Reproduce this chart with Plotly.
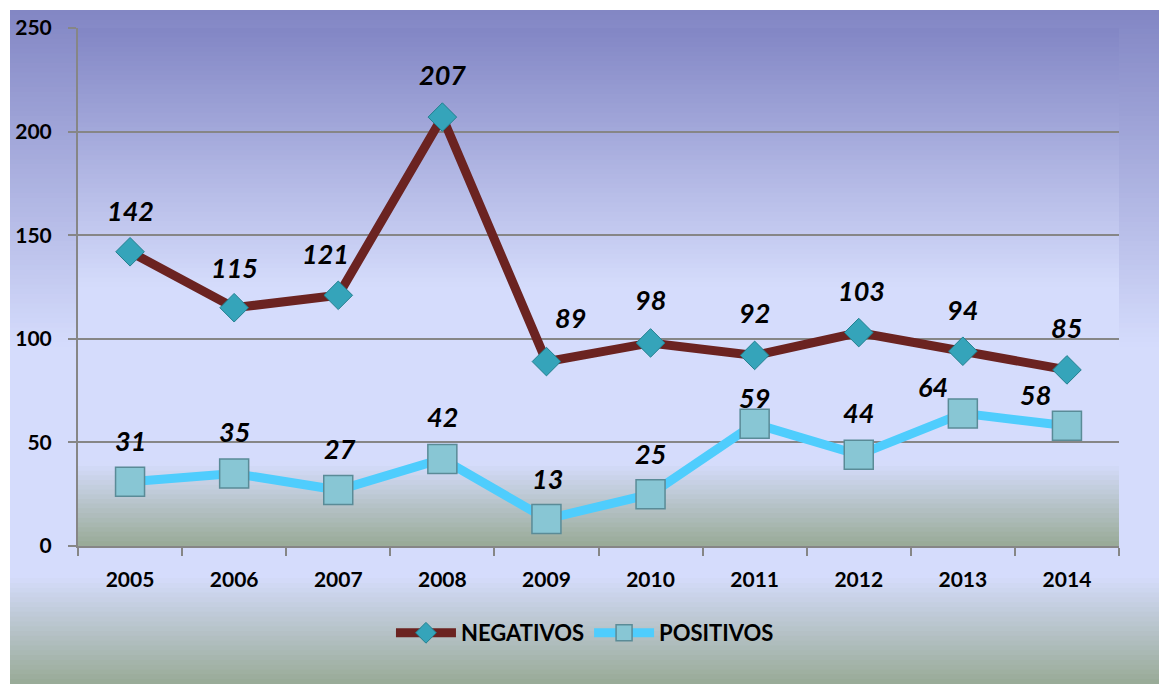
import plotly.graph_objects as go

years = ["2005", "2006", "2007", "2008", "2009", "2010", "2011", "2012", "2013", "2014"]
negativos = [142, 115, 121, 207, 89, 98, 92, 103, 94, 85]
positivos = [31, 35, 27, 42, 13, 25, 59, 44, 64, 58]
y_ticks = [0, 50, 100, 150, 200, 250]

# label offsets in pixels (style only)
neg_dx = [0, 0, -13, 0, 24, 0, 0, 3, 0, 0]
neg_dy = [41, 40, 42, 43, 44, 43, 43, 42, 42, 42]
pos_dx = [0, 0, 2, 0, 1, 0, 0, 0, -30, -31]
pos_dy = [41, 42, 42, 42, 41, 41, 26, 42, 27, 31]

W, H = 1159, 684
L, R, T, B = 78, 1119, 28, 546
ml, mr, mt, mb = L, W - R, T, H - B
pw, ph = R - L, B - T


def px2paper_x(px):
    return (px - L) / pw


def px2paper_y(py):
    return (B - py) / ph


def lerp(c1, c2, t):
    return tuple(round(a + (b - a) * t) for a, b in zip(c1, c2))


stops = [(0.0, (130, 134, 196)), (0.5, (213, 220, 252)), (0.84, (213, 220, 252)), (1.0, (152, 170, 150))]


def grad_color(t):
    for (t0, c0), (t1, c1) in zip(stops[:-1], stops[1:]):
        if t <= t1:
            return lerp(c0, c1, (t - t0) / (t1 - t0) if t1 > t0 else 0)
    return stops[-1][1]


shapes = []


def add_gradient(x0, x1, y0, y1, n):
    step = (y1 - y0) / n
    for i in range(n):
        top = y0 + i * step
        bot = min(y1, top + step + 1)
        c = grad_color((i + 0.5) / n)
        shapes.append(dict(type="rect", xref="paper", yref="paper",
                           x0=px2paper_x(x0), x1=px2paper_x(x1),
                           y0=px2paper_y(bot), y1=px2paper_y(top),
                           fillcolor="rgb(%d,%d,%d)" % c, line=dict(width=0),
                           layer="below"))


add_gradient(10, W, 10, H, 140)
add_gradient(L, R, T, B, 110)

fig = go.Figure()

fig.add_trace(go.Scatter(
    x=years, y=negativos, name="NEGATIVOS", mode="lines+markers",
    line=dict(color="#6b2321", width=9),
    marker=dict(symbol="diamond", size=22, color="#35a4ba",
                line=dict(color="#23808f", width=1)),
))
fig.add_trace(go.Scatter(
    x=years, y=positivos, name="POSITIVOS", mode="lines+markers",
    line=dict(color="#4fcdfd", width=9),
    marker=dict(symbol="square", size=29, color="#88c6d4",
                line=dict(color="#5a8b97", width=1.5)),
))

for vals, dxs, dys in ((negativos, neg_dx, neg_dy), (positivos, pos_dx, pos_dy)):
    for i, (v, dx, dy) in enumerate(zip(vals, dxs, dys)):
        fig.add_annotation(
            x=i, y=v, xref="x", yref="y", text="<i>%d</i>" % v,
            showarrow=False, xshift=dx, yshift=dy,
            font=dict(family="Lato", size=27, color="black", weight="bold"),
        )

fig.update_layout(
    width=W, height=H,
    margin=dict(l=ml, r=mr, t=mt, b=mb, pad=0),
    paper_bgcolor="white",
    plot_bgcolor="rgba(0,0,0,0)",
    shapes=shapes,
    font=dict(family="Lato", color="black"),
    showlegend=True,
    legend=dict(orientation="h", x=0.487, xanchor="center",
                y=px2paper_y(633), yanchor="middle",
                bgcolor="rgba(0,0,0,0)",
                font=dict(family="Lato", size=22, color="black", weight="bold"),
                itemwidth=60, tracegroupgap=0),
)

fig.update_xaxes(
    type="category", range=[-0.5, 9.5],
    showline=True, linecolor="#868686", linewidth=2,
    ticks="outside", ticklen=8, tickcolor="#868686", tickwidth=2,
    tickson="boundaries",
    showgrid=False, zeroline=False,
    tickfont=dict(family="Lato", size=21, color="black", weight="bold"),
    ticklabelstandoff=14,
)
fig.update_yaxes(
    range=[0, 250], tickvals=y_ticks,
    showline=True, linecolor="#868686", linewidth=2,
    ticks="outside", ticklen=8, tickcolor="#868686", tickwidth=2,
    showgrid=True, gridcolor="#868686", gridwidth=2,
    zeroline=False,
    tickfont=dict(family="Lato", size=21, color="black", weight="bold"),
    ticklabelstandoff=12,
)

fig.write_html("out.html", config={"displayModeBar": False},
               post_script="document.body.style.margin='0';document.body.style.overflow='hidden';")
